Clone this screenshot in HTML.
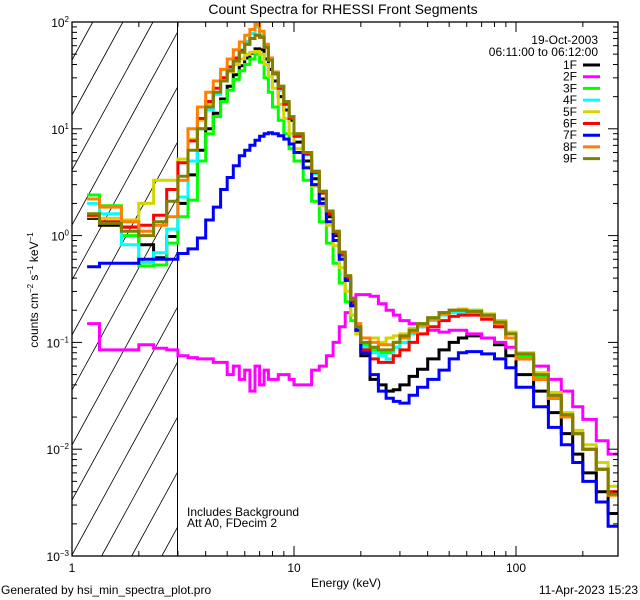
<!DOCTYPE html>
<html><head><meta charset="utf-8"><style>
html,body{margin:0;padding:0;background:#fff;width:640px;height:600px;overflow:hidden;}
svg{display:block;font-family:"Liberation Sans",sans-serif;overflow:hidden;}
</style></head><body>
<svg id="chart" width="640" height="600" viewBox="0 0 640 600" xmlns="http://www.w3.org/2000/svg">
<defs>
<clipPath id="plotclip"><rect x="72" y="22" width="546" height="534"/></clipPath>
</defs>
<rect width="640" height="600" fill="#fff"/>
<text x="343" y="14" font-size="14" text-anchor="middle">Count Spectra for RHESSI Front Segments</text>
<g id="hatch"></g>
<line x1="177.5" y1="22" x2="177.5" y2="556" stroke="#000" stroke-width="1"/>
<g id="series" clip-path="url(#plotclip)"></g>
<g id="axes"></g>
<text x="598" y="44" font-size="12" text-anchor="end">19-Oct-2003</text>
<text x="598" y="56" font-size="12" text-anchor="end">06:11:00 to 06:12:00</text>
<g id="legend"></g>
<text x="187" y="516" font-size="12">Includes Background</text>
<text x="187" y="527" font-size="12">Att A0, FDecim 2</text>
<text x="346" y="587" font-size="12" text-anchor="middle">Energy (keV)</text>
<text transform="translate(38,290) rotate(-90)" font-size="12" text-anchor="middle">counts cm<tspan font-size="8" dy="-5">−2</tspan><tspan dy="5"> s</tspan><tspan font-size="8" dy="-5">−1</tspan><tspan dy="5"> keV</tspan><tspan font-size="8" dy="-5">−1</tspan></text>
<text x="1" y="594" font-size="12">Generated by hsi_min_spectra_plot.pro</text>
<text x="638" y="594" font-size="12" text-anchor="end">11-Apr-2023 15:23</text>
</svg>
<script>
const energyEdges=[1.17,1.33,1.67,2,2.33,2.67,3,3.33,3.67,4,4.33,4.67,5,5.33,5.67,6,6.33,6.67,7,7.33,7.67,8,8.5,9,9.5,10,11,12,13,14,15,16,17,18,19,20,22,24,26,28,30,33,36,40,45,50,55,60,70,80,90,100,120,140,160,180,200,230,260,300];
const seriesNames=["1F","2F","3F","4F","5F","6F","7F","8F","9F"];
const seriesColors=["#000000","#ff00ff","#00ff00","#00ffff","#d4d400","#ff0000","#0000ff","#ff8000","#808000"];
const s1F=[1.45,1.25,1.2,0.82,0.62,0.98,2.0,3.7,6.3,10,14,19,25,32,39,46,51,56,55,45,36,28,20,15,12,7.5,5,3.4,2.2,1.5,1.0,0.65,0.4,0.24,0.13,0.075,0.045,0.04,0.035,0.036,0.04,0.048,0.056,0.07,0.085,0.1,0.11,0.115,0.11,0.095,0.075,0.05,0.035,0.022,0.014,0.009,0.006,0.004,0.0025];
const s2F=[0.15,0.085,0.085,0.095,0.088,0.085,0.075,0.072,0.07,0.07,0.065,0.065,0.05,0.06,0.045,0.055,0.035,0.06,0.04,0.055,0.045,0.045,0.05,0.05,0.045,0.04,0.04,0.055,0.06,0.075,0.1,0.14,0.19,0.26,0.28,0.28,0.27,0.23,0.2,0.18,0.16,0.15,0.14,0.13,0.125,0.13,0.13,0.12,0.11,0.1,0.09,0.075,0.06,0.045,0.035,0.025,0.019,0.012,0.009];
const s3F=[2.4,1.9,1.0,0.52,0.53,0.85,1.5,2.15,5,9,13,18,23,29,35,40,45,50,42,30,22,16,12,9,6.5,5,3.3,2.1,1.35,0.85,0.55,0.36,0.24,0.16,0.12,0.095,0.085,0.08,0.08,0.09,0.1,0.125,0.15,0.17,0.19,0.2,0.205,0.2,0.18,0.155,0.12,0.075,0.048,0.031,0.021,0.014,0.01,0.0065,0.004];
const s4F=[2.0,1.6,0.82,0.56,0.69,1.15,2.3,5,10,15,21,28,36,45,55,66,78,90,75,58,44,32,23,17,12.5,8.5,5.7,3.8,2.5,1.6,1.05,0.65,0.4,0.23,0.13,0.09,0.08,0.075,0.07,0.09,0.1,0.12,0.14,0.16,0.18,0.19,0.19,0.185,0.17,0.145,0.11,0.07,0.045,0.03,0.02,0.014,0.01,0.0065,0.004];
const s5F=[1.5,1.45,1.4,2.0,3.3,3.3,5.2,8,12,17,22,28,34,40,45,50,52,53,50,40,31,24,17,12.5,9,6.5,4.4,2.9,1.9,1.25,0.8,0.5,0.3,0.18,0.12,0.11,0.11,0.1,0.11,0.115,0.12,0.135,0.15,0.17,0.19,0.2,0.205,0.2,0.185,0.16,0.125,0.08,0.052,0.034,0.022,0.015,0.011,0.0075,0.0045];
const s6F=[1.55,1.35,1.2,1.25,1.55,2.7,4.8,7.7,12.5,18,24,30,38,46,54,62,70,75,72,58,44,33,24,17,12.5,8.5,5.8,3.9,2.5,1.6,1.05,0.66,0.4,0.23,0.13,0.085,0.07,0.065,0.065,0.075,0.085,0.1,0.12,0.14,0.16,0.175,0.18,0.18,0.165,0.14,0.11,0.07,0.045,0.03,0.02,0.014,0.01,0.0065,0.004];
const s7F=[0.51,0.55,0.55,0.6,0.6,0.6,0.68,0.75,0.95,1.4,1.85,2.7,3.5,4.5,5.6,6.3,7.0,7.8,8.5,9.0,9.2,9.0,8.6,8.0,7.2,6.0,4.3,3.0,2.0,1.35,0.9,0.6,0.38,0.22,0.13,0.08,0.05,0.035,0.03,0.028,0.027,0.032,0.038,0.045,0.055,0.07,0.08,0.082,0.078,0.07,0.058,0.038,0.025,0.016,0.011,0.0075,0.005,0.0032,0.0019];
const s8F=[2.2,1.85,1.35,1.1,1.25,1.5,3.3,10,16,22,28,36,45,55,65,75,85,95,82,62,46,34,25,18,13,9,6,4,2.6,1.7,1.1,0.7,0.42,0.25,0.15,0.11,0.1,0.095,0.095,0.1,0.11,0.125,0.145,0.165,0.185,0.2,0.2,0.195,0.175,0.15,0.11,0.07,0.045,0.03,0.02,0.014,0.01,0.0065,0.0037];
const s9F=[1.6,1.3,1.1,1.0,1.35,2.1,3.6,6.3,10,16,22,28,35,43,52,62,70,75,72,58,44,33,25,18,13,9,6,4,2.6,1.7,1.1,0.7,0.42,0.25,0.14,0.1,0.09,0.085,0.085,0.1,0.115,0.13,0.15,0.17,0.19,0.2,0.2,0.195,0.18,0.155,0.12,0.078,0.05,0.032,0.021,0.014,0.01,0.0065,0.0038];
const seriesData=[s1F,s2F,s3F,s4F,s5F,s6F,s7F,s8F,s9F];
const xTickValues=[1,10,100];
const xTickLabels=["1","10","100"];
const yTickExps=[-3,-2,-1,0,1,2];

const NS="http://www.w3.org/2000/svg";
const L=72,R=618,T=22,B=556,DEC=222;
const YMAX=2,YMIN=-3;
function xs(e){return L+DEC*Math.log10(e);}
function ys(v){return T+(B-T)*(YMAX-Math.log10(v))/(YMAX-YMIN);}
function mk(tag,attrs,parent){const el=document.createElementNS(NS,tag);for(const k in attrs)el.setAttribute(k,attrs[k]);parent.appendChild(el);return el;}

// hatch lines clipped manually to the region x 72..177, y 22..556
const hatch=document.getElementById('hatch');
const HX0=72,HX1=177.5,slope=201/110;
for(let i=-6;i<14;i++){
  const y0=60+i*55; // y at x=HX0
  // param by x: y = y0 - slope*(x-HX0)
  let xa=HX0,xb=HX1;
  // y<=B  => x >= HX0 + (y0-B)/slope
  xa=Math.max(xa,HX0+(y0-B)/slope);
  // y>=T => x <= HX0 + (y0-T)/slope
  xb=Math.min(xb,HX0+(y0-T)/slope);
  if(xb<=xa)continue;
  const h=mk('line',{x1:xa.toFixed(1),y1:(y0-slope*(xa-HX0)).toFixed(1),x2:xb.toFixed(1),y2:(y0-slope*(xb-HX0)).toFixed(1),stroke:'#000','stroke-width':0.8},hatch);
  
  
}

const sg=document.getElementById('series');
seriesData.forEach((vals,si)=>{
  let d='';
  for(let i=0;i<vals.length;i++){
    const x0=xs(energyEdges[i]),x1=Math.min(xs(energyEdges[i+1]),R),y=ys(vals[i]);
    d+=(i===0?'M':'L')+x0.toFixed(1)+','+y.toFixed(1)+'L'+x1.toFixed(1)+','+y.toFixed(1);
  }
  const p=mk('path',{d:d,fill:'none',stroke:seriesColors[si],'stroke-width':3,'stroke-linejoin':'miter'},sg);
  
  
});

const ag=document.getElementById('axes');
const box=mk('rect',{x:L,y:T,width:R-L,height:B-T,fill:'none',stroke:'#000','stroke-width':1.3},ag);


for(let dec=0;dec<3;dec++){
  for(let m=1;m<10;m++){
    const e=Math.pow(10,dec)*m; if(e>290)break;
    const x=xs(e),len=m===1?10:5;
    const t1=mk('line',{x1:x,y1:B,x2:x,y2:B-len,stroke:'#000','stroke-width':1},ag);
    
    
    const t2=mk('line',{x1:x,y1:T,x2:x,y2:T+len,stroke:'#000','stroke-width':1},ag);
    
    
  }
}
xTickValues.forEach((v,i)=>{
  const t=mk('text',{x:xs(v),y:572,'font-size':12,'text-anchor':'middle'},ag);
  t.textContent=xTickLabels[i];
  
  
});
yTickExps.forEach(ex=>{
  for(let m=1;m<10;m++){
    if(ex===2&&m>1)break;
    const y=ys(m*Math.pow(10,ex)),len=m===1?10:5;
    const t1=mk('line',{x1:L,y1:y,x2:L+len,y2:y,stroke:'#000','stroke-width':1},ag);
    
    
    const t2=mk('line',{x1:R,y1:y,x2:R-len,y2:y,stroke:'#000','stroke-width':1},ag);
    
    
  }
  const y=ys(Math.pow(10,ex));
  const t=mk('text',{x:L-3,y:y+5,'font-size':12,'text-anchor':'end'},ag);
  
  
  const a=document.createElementNS(NS,'tspan');a.textContent='10';t.appendChild(a);
  const b=document.createElementNS(NS,'tspan');b.setAttribute('font-size','8');b.setAttribute('dy','-5');b.textContent=(ex<0?'−':'')+Math.abs(ex);t.appendChild(b);
});

const lg=document.getElementById('legend');
seriesNames.forEach((n,i)=>{
  const y=65+i*11.7;
  const t=mk('text',{x:577,y:y+4,'font-size':12,'text-anchor':'end'},lg);
  t.textContent=n;
  
  
  const l=mk('line',{x1:583,y1:y,x2:600,y2:y,stroke:seriesColors[i],'stroke-width':3},lg);
  
  
});
</script>
</body></html>
